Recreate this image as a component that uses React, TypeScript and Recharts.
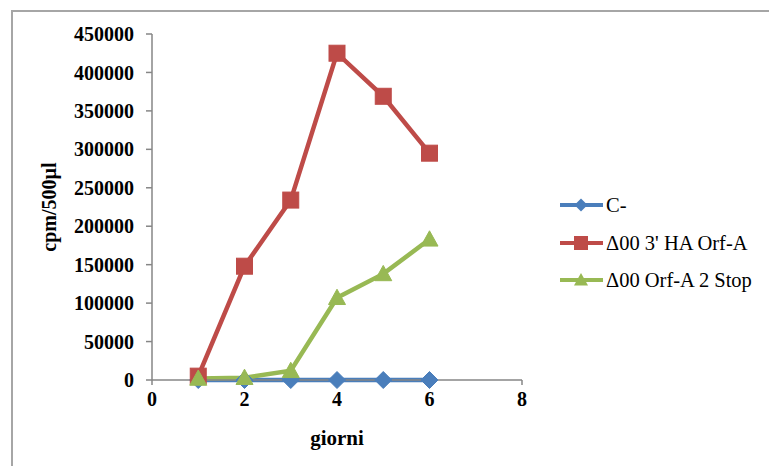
import React from "react";
import { LineChart, Line, XAxis, YAxis } from "recharts";

const days = [1, 2, 3, 4, 5, 6];
const cNeg = [0, 0, 0, 0, 0, 0];
const haOrfA = [5000, 148000, 234000, 425000, 369000, 295000];
const orfA2Stop = [2000, 3000, 12000, 107000, 138000, 183000];
const xTicks = [0, 2, 4, 6, 8];
const yTicks = [0, 50000, 100000, 150000, 200000, 250000, 300000, 350000, 400000, 450000];
const seriesNames = ["C-", "Δ00 3' HA Orf-A", "Δ00 Orf-A 2 Stop"];

const data = days.map((d, i) => ({ day: d, c: cNeg[i], ha: haOrfA[i], stop: orfA2Stop[i] }));

const BLUE = "#4A7EBB";
const RED = "#BE4B48";
const GREEN = "#98B954";
const FONT = "'Liberation Serif', 'Times New Roman', serif";

const Diamond = (props: any) => {
  const { cx, cy } = props;
  if (cx == null || cy == null) return null;
  const r = 8.5;
  return <polygon points={`${cx},${cy - r} ${cx + r},${cy} ${cx},${cy + r} ${cx - r},${cy}`} fill={BLUE} stroke={BLUE} strokeWidth={1} />;
};
const Square = (props: any) => {
  const { cx, cy } = props;
  if (cx == null || cy == null) return null;
  const r = 8;
  return <rect x={cx - r} y={cy - r} width={2 * r} height={2 * r} fill={RED} stroke={RED} strokeWidth={1} />;
};
const Tri = (props: any) => {
  const { cx, cy } = props;
  if (cx == null || cy == null) return null;
  const r = 8.5;
  return <polygon points={`${cx},${cy - r} ${cx + r},${cy + r * 0.8} ${cx - r},${cy + r * 0.8}`} fill={GREEN} stroke={GREEN} strokeWidth={1} />;
};

const LegendBox = () => {
  const items = [
    { name: seriesNames[0], color: BLUE, shape: "d" },
    { name: seriesNames[1], color: RED, shape: "s" },
    { name: seriesNames[2], color: GREEN, shape: "t" },
  ];
  const rowsY = [13, 51, 88];
  return (
    <svg width={220} height={110} style={{ overflow: "visible", display: "block" }}>
      {items.map((it, i) => {
        const y = rowsY[i];
        const cx = 24;
        return (
          <g key={i}>
            <line x1={3} x2={46} y1={y} y2={y} stroke={it.color} strokeWidth={4} />
            {it.shape === "d" && <polygon points={`${cx},${y - 6.5} ${cx + 6.5},${y} ${cx},${y + 6.5} ${cx - 6.5},${y}`} fill={it.color} />}
            {it.shape === "s" && <rect x={cx - 7} y={y - 7} width={14} height={14} fill={it.color} />}
            {it.shape === "t" && <polygon points={`${cx},${y - 7} ${cx + 7},${y + 5.5} ${cx - 7},${y + 5.5}`} fill={it.color} />}
            <text x={49} y={y + 7} fontFamily={FONT} fontSize={20.5} fill="#000">{it.name}</text>
          </g>
        );
      })}
    </svg>
  );
};

export default function App() {
  return (
    <div style={{ position: "fixed", left: 0, top: 0, width: 769, height: 466, background: "#fff", overflow: "hidden" }}>
      <div style={{ position: "absolute", left: 11, top: 10, width: 800, height: 500, borderLeft: "2px solid #A6A6A6", borderTop: "2px solid #A6A6A6", boxSizing: "border-box" }} />
      <div style={{ position: "absolute", left: 0, top: 0 }}>
        <LineChart width={769} height={466} data={data} margin={{ top: 34, right: 247, bottom: 0, left: 0 }}>
          <XAxis
            dataKey="day"
            type="number"
            domain={[0, 8]}
            ticks={xTicks}
            height={86}
            stroke="#868686"
            strokeWidth={1.5}
            tickSize={5}
            tickMargin={7}
            tick={{ fill: "#000", fontFamily: FONT, fontSize: 20, fontWeight: "bold" }}
            label={{ value: "giorni", position: "insideBottom", offset: 21, fill: "#000", fontFamily: FONT, fontSize: 21, fontWeight: "bold" }}
          />
          <YAxis
            type="number"
            domain={[0, 450000]}
            ticks={yTicks}
            width={152}
            stroke="#868686"
            strokeWidth={1.5}
            tickSize={6}
            tickMargin={12}
            interval={0}
            tick={{ fill: "#000", fontFamily: FONT, fontSize: 20, fontWeight: "bold" }}
            label={{ value: "cpm/500µl", angle: -90, position: "insideLeft", offset: 49, fill: "#000", fontFamily: FONT, fontSize: 20, fontWeight: "bold", style: { textAnchor: "middle" } }}
          />
          <Line dataKey="c" name={seriesNames[0]} stroke={BLUE} strokeWidth={4.5} dot={<Diamond />} isAnimationActive={false} />
          <Line dataKey="ha" name={seriesNames[1]} stroke={RED} strokeWidth={4.5} dot={<Square />} isAnimationActive={false} />
          <Line dataKey="stop" name={seriesNames[2]} stroke={GREEN} strokeWidth={4.5} dot={<Tri />} isAnimationActive={false} />
        </LineChart>
      </div>
      <div style={{ position: "absolute", left: 557, top: 192 }}>
        <LegendBox />
      </div>
    </div>
  );
}
